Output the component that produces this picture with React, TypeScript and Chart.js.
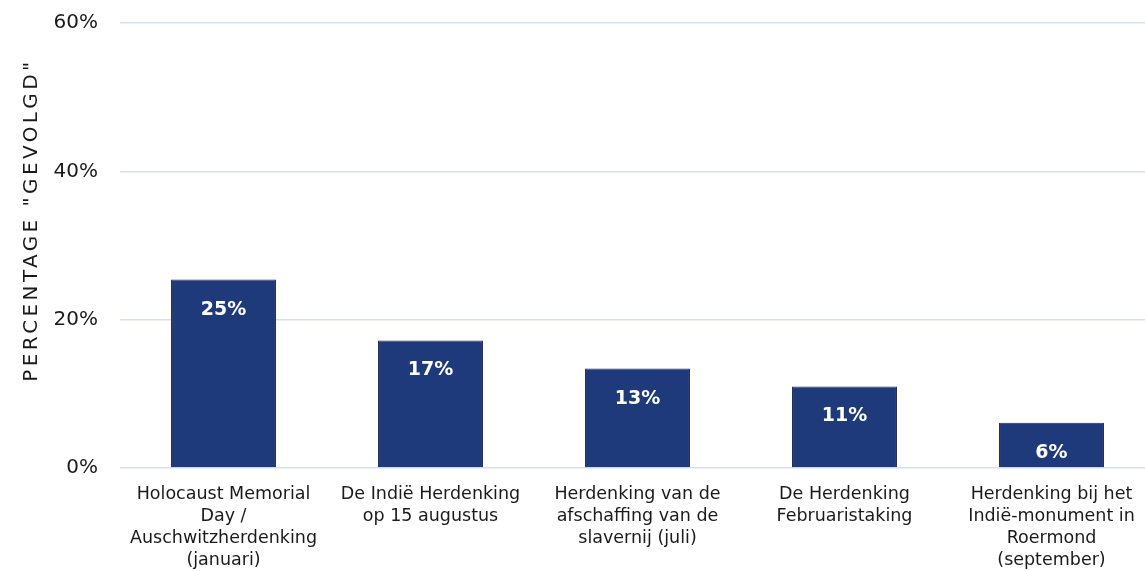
import React, { useEffect, useRef } from "react";
import { Chart, registerables } from "chart.js";

Chart.register(...registerables);

const categories: string[][] = [
  ["Holocaust Memorial", "Day /", "Auschwitzherdenking", "(januari)"],
  ["De Indië Herdenking", "op 15 augustus"],
  ["Herdenking van de", "afschaffing van de", "slavernij (juli)"],
  ["De Herdenking", "Februaristaking"],
  ["Herdenking bij het", "Indië-monument in", "Roermond", "(september)"],
];
const values: number[] = [25.4, 17.2, 13.4, 11.0, 6.1];
const yTicks: number[] = [0, 20, 40, 60];
const yTitle = 'PERCENTAGE "GEVOLGD"';

const FONT = "'DejaVu Sans', sans-serif";

export default function App() {
  const ref = useRef<HTMLCanvasElement | null>(null);

  useEffect(() => {
    if (!ref.current) return;
    const labelPlugin = {
      id: "barLabels",
      afterDatasetsDraw(chart: any) {
        const ctx = chart.ctx;
        const meta = chart.getDatasetMeta(0);
        ctx.save();
        ctx.fillStyle = "#ffffff";
        ctx.font = `bold 19px ${FONT}`;
        ctx.textAlign = "center";
        ctx.textBaseline = "middle";
        meta.data.forEach((bar: any, i: number) => {
          ctx.fillText(Math.round(values[i]) + "%", bar.x, bar.y + 30);
        });
        ctx.restore();
      },
      afterDraw(chart: any) {
        const ctx = chart.ctx;
        ctx.save();
        ctx.fillStyle = "#1a1a1a";
        ctx.font = `20px ${FONT}`;
        (ctx as any).letterSpacing = "3.4px";
        ctx.textAlign = "center";
        ctx.textBaseline = "middle";
        ctx.translate(32, 220);
        ctx.rotate(-Math.PI / 2);
        ctx.fillText(yTitle, 0, 0);
        ctx.restore();
      },
    };
    const chart = new Chart(ref.current, {
      type: "bar",
      data: {
        labels: categories,
        datasets: [
          {
            data: values,
            backgroundColor: "#1f3a7a",
            borderColor: "#262b52",
            borderWidth: 1,
            barPercentage: 0.507,
            categoryPercentage: 1,
          },
        ],
      },
      options: {
        animation: false,
        responsive: false,
        devicePixelRatio: 1,
        layout: { padding: { top: 23, right: 0, left: 0, bottom: 0 } },
        plugins: {
          legend: { display: false },
          tooltip: { enabled: false },
        },
        scales: {
          x: {
            grid: { display: false, drawTicks: false },
            border: { display: false },
            ticks: {
              color: "#1a1a1a",
              font: { family: FONT, size: 17.5, lineHeight: 1.26 },
              padding: 15,
              maxRotation: 0,
              autoSkip: false,
            },
            afterFit(scale: any) {
              scale.height = 103;
              scale.paddingLeft = 0;
              scale.paddingRight = 0;
            },
          },
          y: {
            min: 0,
            max: 60,
            afterBuildTicks(scale: any) {
              scale.ticks = yTicks.map((v) => ({ value: v }));
            },
            grid: { color: "#d6dff2", lineWidth: 1.5, drawTicks: false },
            border: { display: false },
            ticks: {
              color: "#1a1a1a",
              font: { family: FONT, size: 20 },
              padding: 22,
              callback: (v: any) => v + "%",
            },
            afterFit(scale: any) {
              scale.width = 120;
              scale.paddingTop = 0;
              scale.paddingBottom = 0;
            },
          },
        },
      },
      plugins: [labelPlugin],
    });
    return () => chart.destroy();
  }, []);

  return (
    <div style={{ position: "fixed", left: 0, top: 0, width: 1145, height: 571, overflow: "hidden", background: "#fff" }}>
      <canvas ref={ref} width={1155} height={571} style={{ display: "block", width: 1155, height: 571 }} />
    </div>
  );
}
